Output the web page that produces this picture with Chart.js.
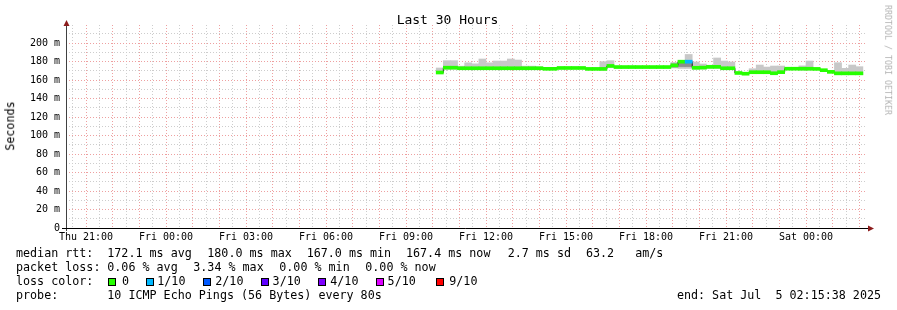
<!DOCTYPE html>
<html><head><meta charset="utf-8">
<script src="https://cdn.jsdelivr.net/npm/chart.js@4.4.1/dist/chart.umd.min.js"></script>
<style>
html,body{margin:0;padding:0;background:#fff;}
#wrap{position:relative;width:897px;height:310px;overflow:hidden;font-family:"DejaVu Sans Mono",monospace;color:#000;background:#fff;}
canvas{position:absolute;left:0;top:0;}
.t{position:absolute;white-space:pre;line-height:1;}
.box{position:absolute;width:6px;height:6px;border:1px solid #000;}
</style></head><body>
<div id="wrap"><canvas id="c" width="897" height="310"></canvas></div>
<script>
// ---------- data ----------
const bucketStartHour = 34 + 8/60;   // Fri 10:08, hours since Thu 00:00
const bucketMinutes = 16;
const medianMs = [168.1,173.3,173.3,172.7,172.7,172.7,172.7,172.7,172.7,172.7,
                  172.7,172.7,172.7,172.7,172.7,172.1,172.1,173.0,173.0,173.0,
                  173.0,172.0,172.0,172.0,175.2,174.0,174.0,174.0,174.0,174.0,
                  174.0,174.0,174.0,175.8,179.8,179.8,173.2,173.4,174.2,174.2,
                  172.7,172.7,167.6,166.8,168.4,168.4,168.4,167.3,168.5,172.2,
                  172.2,172.2,172.2,172.0,170.6,168.8,167.2,167.2,167.2,167.2];
const lossTenths = [0,0,0,0,0,0,0,0,0,0, 0,0,0,0,0,0,0,0,0,0,
                    0,0,0,0,0,0,0,0,0,0, 0,0,0,0,0,1,0,0,0,0,
                    0,0,0,0,0,0,0,0,0,0, 0,0,0,0,0,0,0,0,0,0];
const smokeLowMs = [167.0,171.6,171.6,171.2,171.2,171.2,171.2,171.2,171.2,171.2,
                    171.2,171.2,171.2,171.2,171.2,null,null,null,null,null,
                    null,null,null,170.5,173.5,null,null,null,null,null,
                    null,null,null,173.0,172.5,172.5,171.7,171.9,172.7,172.7,
                    171.2,171.2,null,null,166.9,166.9,166.9,165.8,167.0,null,
                    null,170.7,170.7,null,null,null,165.7,165.7,165.7,165.7];
const smokeHighMs = [173.0,180.9,180.9,175.0,178.6,177.5,182.7,178.6,180.5,180.5,
                     182.7,181.6,175.0,175.0,174.4,null,null,null,null,null,
                     null,null,null,179.8,180.9,null,null,null,null,null,
                     null,null,null,179.0,181.0,187.6,179.5,177.3,176.0,183.8,
                     180.5,179.5,null,null,172.2,176.2,174.0,175.1,175.1,null,
                     null,175.3,180.5,null,null,null,178.7,172.6,176.2,174.4];
const smokeDarkLowMs  = {33:174.0, 34:174.5, 35:174.5};
const smokeDarkHighMs = {33:177.5, 34:178.5, 35:178.7};

const xTickHours  = [21,24,27,30,33,36,39,42,45,48];
const xTickLabels = ["Thu 21:00","Fri 00:00","Fri 03:00","Fri 06:00","Fri 09:00",
                     "Fri 12:00","Fri 15:00","Fri 18:00","Fri 21:00","Sat 00:00"];
const yTickValues = [0,20,40,60,80,100,120,140,160,180,200];
const yTickLabels = ["0","20 m","40 m","60 m","80 m","100 m","120 m","140 m","160 m","180 m","200 m"];
const lossColorLabels = ["0","1/10","2/10","3/10","4/10","5/10","9/10"];
const lossColorTenths = [0,1,2,3,4,5,9];
const lossColors = ["#26ff00","#00b8ff","#0059ff","#5e00ff","#7e00ff","#dd00ff","#ff0000"];

// ---------- build datasets ----------
const stepH = bucketMinutes/60;
const centers = medianMs.map((_, i) => bucketStartHour + (i + 0.5)*stepH);
const starts  = medianMs.map((_, i) => bucketStartHour + i*stepH);
const endH = bucketStartHour + medianMs.length*stepH;
const colorFor = l => lossColors[Math.max(0, lossColorTenths.indexOf(l))];

const smokeLight = [], smokeDark = [];
centers.forEach((x, i) => {
  if (smokeHighMs[i] != null) smokeLight.push({x, y:[smokeLowMs[i], smokeHighMs[i]]});
  if (smokeDarkHighMs[i] != null) smokeDark.push({x, y:[smokeDarkLowMs[i], smokeDarkHighMs[i]]});
});
const medianStep = starts.map((x, i) => ({x, y: medianMs[i]}));
medianStep.push({x:endH, y: medianMs[medianMs.length-1]});
const bandHalf = 1.62;
const medianBand = centers.map((x, i) => ({x, y:[medianMs[i]-bandHalf, medianMs[i]+bandHalf]}));

const RED = '#eea0a0', GRAY = '#cdcdcd';
const barCommon = {grouped:false, barPercentage:1, categoryPercentage:1, borderWidth:0};

const axesPlugin = {
  id:'axesArrows',
  afterDraw(chart){
    const {ctx, chartArea:a} = chart;
    ctx.save();
    ctx.lineWidth = 1;
    ctx.strokeStyle = '#404040';
    ctx.beginPath(); ctx.moveTo(a.left+0.5, a.bottom+3); ctx.lineTo(a.left+0.5, a.top-3); ctx.stroke();
    ctx.strokeStyle = '#000';
    ctx.beginPath(); ctx.moveTo(a.left-4, a.bottom+0.5); ctx.lineTo(a.right+3, a.bottom+0.5); ctx.stroke();
    ctx.fillStyle = '#8c1c1c';
    ctx.beginPath(); ctx.moveTo(a.left+0.5, a.top-5); ctx.lineTo(a.left+3.5, a.top+1); ctx.lineTo(a.left-2.5, a.top+1); ctx.closePath(); ctx.fill();
    ctx.beginPath(); ctx.moveTo(a.right+8, a.bottom+0.5); ctx.lineTo(a.right+2, a.bottom-2.5); ctx.lineTo(a.right+2, a.bottom+3.5); ctx.closePath(); ctx.fill();
    ctx.restore();
  }
};

new Chart(document.getElementById('c'), {
  type:'bar',
  data:{datasets:[
    {type:'bar', data:smokeLight, backgroundColor:'#c8c8c8', order:4, ...barCommon},
    {type:'bar', data:smokeDark, backgroundColor:'#8e8e8e', order:3, ...barCommon},
    {type:'line', data:medianStep, stepped:true, borderColor:'#202020', borderWidth:1, pointRadius:0, order:2},
    {type:'bar', data:medianBand, backgroundColor:lossTenths.map(colorFor), order:1, ...barCommon}
  ]},
  options:{
    responsive:false, animation:false, events:[],
    layout:{padding:{top:25, right:31, left:0, bottom:0}},
    plugins:{legend:{display:false}, tooltip:{enabled:false}, title:{display:false}},
    scales:{
      x:{type:'linear', min:20.25, max:50.25, offset:false, z:1,
         afterFit:s=>{s.height = 82;},
         afterBuildTicks:s=>{const t=[]; for(let h=20.5; h<=50.0001; h+=0.5) t.push({value:h}); s.ticks=t;},
         grid:{offset:false, drawTicks:false, lineWidth:1,
               color:c=> (c.tick && Number.isInteger(c.tick.value)) ? RED : GRAY},
         border:{display:false, dash:[1,2]},
         ticks:{autoSkip:false, maxRotation:0, minRotation:0, padding:3, color:'#000',
                font:{family:'DejaVu Sans Mono', size:10},
                callback:v=>{const k=xTickHours.indexOf(v); return k>=0 ? xTickLabels[k] : '';}}},
      y:{type:'linear', min:0, max:219.46, z:1,
         afterFit:s=>{s.width = 66;},
         afterBuildTicks:s=>{const t=[]; for(let v=0; v<=210; v+=10) t.push({value:v}); s.ticks=t;},
         grid:{drawTicks:false, lineWidth:1,
               color:c=> (c.tick && c.tick.value % 20 === 0) ? RED : GRAY},
         border:{display:false, dash:[1,2]},
         ticks:{autoSkip:false, padding:6, color:'#000',
                font:{family:'DejaVu Sans Mono', size:10},
                callback:v=>{const k=yTickValues.indexOf(v); return k>=0 ? yTickLabels[k] : '';}}}
    }
  },
  plugins:[axesPlugin]
});

// ---------- text ----------
const wrap = document.getElementById('wrap');
function addText(str, x, baseline, size, align, color, rot){
  const d = document.createElement('div');
  d.className = 't';
  d.textContent = str;
  d.style.fontSize = size + 'px';
  d.style.left = x + 'px';
  d.style.top = (baseline - 0.846*size) + 'px';
  if (color) d.style.color = color;
  let tf = '';
  if (align === 'center') tf = 'translateX(-50%)';
  if (align === 'right') tf = 'translateX(-100%)';
  if (tf) d.style.transform = tf;
  wrap.appendChild(d);
  return d;
}
function addRotated(str, cx, cy, size, deg, color){
  const d = document.createElement('div');
  d.className = 't';
  d.textContent = str;
  d.style.fontSize = size + 'px';
  d.style.left = cx + 'px';
  d.style.top = cy + 'px';
  if (color) d.style.color = color;
  d.style.transform = 'translate(-50%,-50%) rotate(' + deg + 'deg)';
  wrap.appendChild(d);
}
const LF = 11.7;
addText('Last 30 Hours', 447.5, 24, 13, 'center');
addRotated('Seconds', 11, 126, LF, -90);
addRotated('RRDTOOL / TOBI OETIKER', 887.5, 60, 8.3, 90, '#b4b4b4');

const b1 = 258, b2 = 272, b3 = 286, b4 = 300;
addText('median rtt:', 16, b1, LF);
addText('172.1 ms avg', 107.3, b1, LF);
addText('180.0 ms max', 207.3, b1, LF);
addText('167.0 ms min', 306.7, b1, LF);
addText('167.4 ms now', 406, b1, LF);
addText('2.7 ms sd', 507.7, b1, LF);
addText('63.2   am/s', 586, b1, LF);

addText('packet loss:', 16, b2, LF);
addText('0.06 % avg', 107.3, b2, LF);
addText('3.34 % max', 193.3, b2, LF);
addText('0.00 % min', 279.3, b2, LF);
addText('0.00 % now', 365.3, b2, LF);

addText('loss color:', 16, b3, LF);
const boxX = [108.3, 145.7, 203.3, 261, 318.3, 375.7, 436];
const lblX = [122, 157.3, 215.3, 272.6, 330.3, 387.6, 449.3];
lossColorLabels.forEach((lab, i) => {
  const bx = document.createElement('div');
  bx.className = 'box';
  bx.style.left = Math.round(boxX[i]) + 'px';
  bx.style.top = '278px';
  bx.style.background = lossColors[i];
  wrap.appendChild(bx);
  addText(lab, lblX[i], b3, LF);
});

addText('probe:', 16, b4, LF);
addText('10 ICMP Echo Pings (56 Bytes) every 80s', 107.3, b4, LF);
addText('end: Sat Jul  5 02:15:38 2025', 881, b4, LF, 'right');
</script>
</body></html>
